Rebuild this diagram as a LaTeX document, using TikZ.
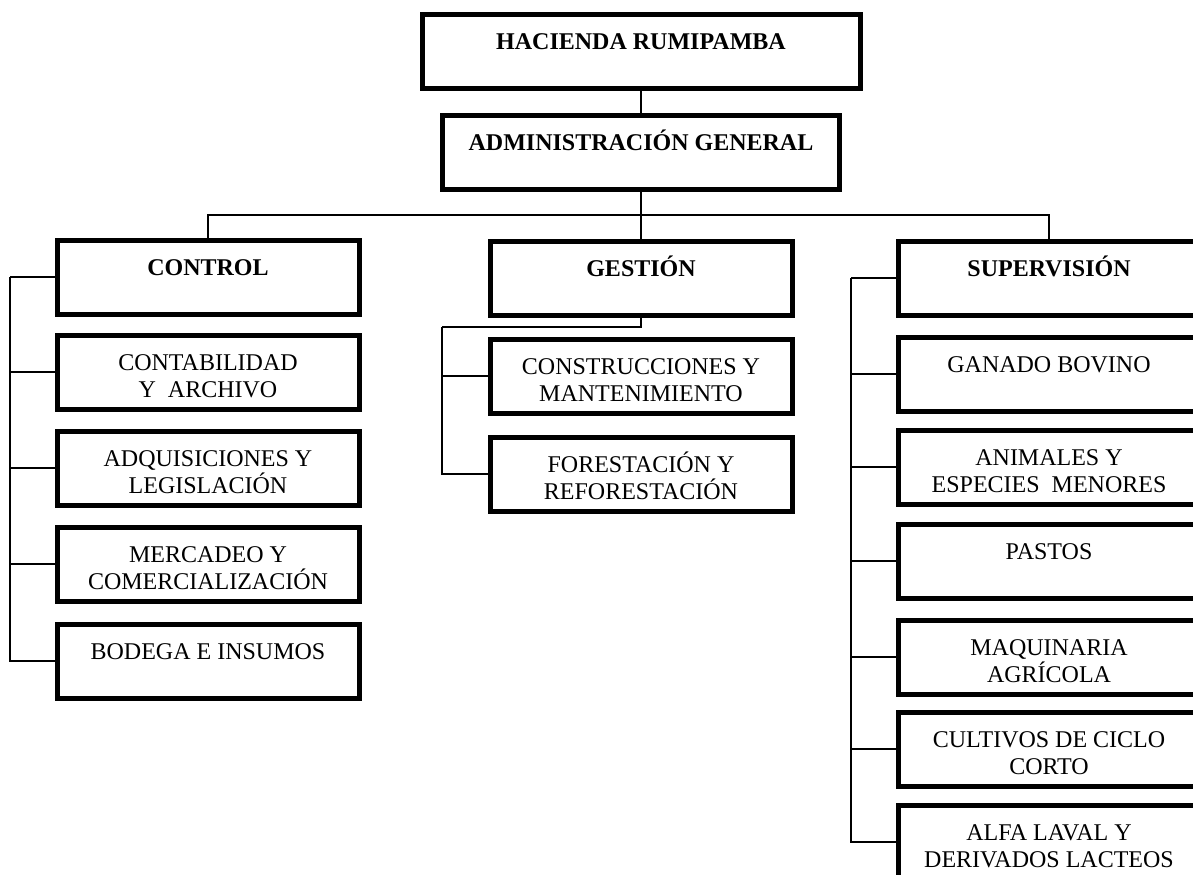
\documentclass[tikz,border=0pt]{standalone}
\usepackage{fontspec}
\setmainfont{Liberation Serif}
\usepackage{tikz}
\tikzset{
  unit/.style={draw, line width=2.5pt, inner sep=0pt, minimum width=151pt, minimum height=37pt, font=\fontsize{12}{13.5}\selectfont},
  head/.style={unit, font=\fontsize{12}{13.5}\selectfont\bfseries},
  link/.style={draw, line width=0.8pt},
}
\newcommand{\cell}[2][151pt]{\parbox[c][37pt][t]{#1}{\centering\rule{0pt}{17.5pt}#2\par}}

\begin{document}
\begin{tikzpicture}[x=0.5pt, y=-0.5pt]
  \useasboundingbox (0,0) rectangle (1193,874);
  \clip (0,0) rectangle (1193,874);
  \node[head] (hac) at (641,51) {\cell[219pt]{HACIENDA RUMIPAMBA}};
  \node[head] (adm) at (641,152) {\cell[198.5pt]{ADMINISTRACIÓN GENERAL}};
  \node[head] (ctl) at (208,277) {\cell{CONTROL}};
  \node[head] (ges) at (641,278) {\cell{GESTIÓN}};
  \node[head] (sup) at (1049,278) {\cell{SUPERVISIÓN}};
  \node[unit] (cnt) at (208,372) {\cell{CONTABILIDAD\\ Y~ ARCHIVO}};
  \node[unit] (adq) at (208,468) {\cell{ADQUISICIONES Y\\ LEGISLACIÓN}};
  \node[unit] (mer) at (208,564) {\cell{MERCADEO Y\\ COMERCIALIZACIÓN}};
  \node[unit] (bod) at (208,661) {\cell{BODEGA E INSUMOS}};
  \node[unit] (cns) at (641,376) {\cell{CONSTRUCCIONES Y\\ MANTENIMIENTO}};
  \node[unit] (frs) at (641,474) {\cell{FORESTACIÓN Y\\ REFORESTACIÓN}};
  \node[unit] (gan) at (1049,374) {\cell{GANADO BOVINO}};
  \node[unit] (ani) at (1049,467) {\cell{ANIMALES Y\\ ESPECIES~ MENORES}};
  \node[unit] (pas) at (1049,561) {\cell{PASTOS}};
  \node[unit] (maq) at (1049,657) {\cell{MAQUINARIA\\ AGRÍCOLA}};
  \node[unit] (cul) at (1049,749) {\cell{CULTIVOS DE CICLO\\ CORTO}};
  \node[unit] (alf) at (1049,842) {\cell{ALFA LAVAL Y\\ DERIVADOS LACTEOS}};

  \coordinate (bus) at (641,215);
  \coordinate (lrail) at (10,277);
  \coordinate (mrail) at (442,327);
  \coordinate (rrail) at (851,278);
  \draw[link] (hac) -- (adm);
  \draw[link] (adm) -- (bus);
  \draw[link] (ctl.north) |- (bus) -| (sup.north);
  \draw[link] (bus) -- (ges.north);
  \draw[link] (ctl.west) -- (lrail);
  \foreach \n in {cnt,adq,mer,bod}
    \draw[link] (\n.west) -| (lrail);
  \draw[link] (ges.south) |- (mrail);
  \foreach \n in {cns,frs}
    \draw[link] (\n.west) -| (mrail);
  \draw[link] (sup.west) -- (rrail);
  \foreach \n in {gan,ani,pas,maq,cul,alf}
    \draw[link] (\n.west) -| (rrail);
\end{tikzpicture}
\end{document}
